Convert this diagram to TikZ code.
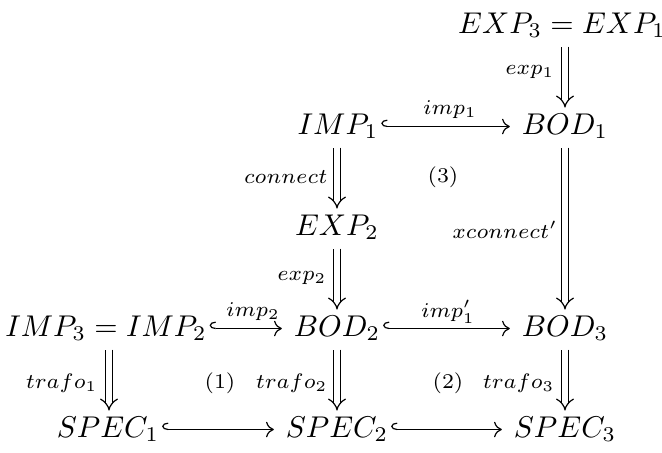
\documentclass[tikz,border=0pt]{standalone}
\usetikzlibrary{arrows.meta,calc}
\begin{document}
\begin{tikzpicture}[x=0.3333pt,y=-0.3333pt,
  obj/.style={inner sep=0pt, outer sep=0pt, anchor=base},
  lbl/.style={inner sep=0pt, font=\scriptsize},
  dbl/.style={double, double distance=1.7pt, line width=0.4pt, -{Implies}},
  inc/.style={line width=0.4pt, {Hooks[right,length=2pt,width=4.6pt]}-{To[length=2.6pt,width=5.2pt]}}]
\useasboundingbox (0,0) rectangle (662,452);
% nodes
\node[obj] (e31) at (562,33) {$EXP_3 = EXP_1$};
\node[obj] (imp1) at (338,134) {$IMP_1$};
\node[obj] (bod1) at (565,134) {$BOD_1$};
\node[obj] (exp2) at (337,235) {$EXP_2$};
\node[obj] (imp32) at (106,336) {$IMP_3 = IMP_2$};
\node[obj] (bod2) at (337,336) {$BOD_2$};
\node[obj] (bod3) at (565,336) {$BOD_3$};
\node[obj] (spec1) at (108,437) {$SPEC_1$};
\node[obj] (spec2) at (337,437) {$SPEC_2$};
\node[obj] (spec3) at (565,437) {$SPEC_3$};
\coordinate (c1) at (109,0);
\coordinate (c2) at (337,0);
\coordinate (c3) at (565,0);
% vertical arrows
\draw[dbl] ([yshift=-3pt]e31.south -| c3) -- ([yshift=2pt]bod1.north -| c3);
\draw[dbl] ([yshift=-3pt]imp1.south -| c2) -- ([yshift=2pt]exp2.north -| c2);
\draw[dbl] ([yshift=-3pt]exp2.south -| c2) -- ([yshift=2pt]bod2.north -| c2);
\draw[dbl] ([yshift=-3pt]bod1.south -| c3) -- ([yshift=2pt]bod3.north -| c3);
\draw[dbl] ([yshift=-3pt]imp32.south -| c1) -- ([yshift=2pt]spec1.north -| c1);
\draw[dbl] ([yshift=-3pt]bod2.south -| c2) -- ([yshift=2pt]spec2.north -| c2);
\draw[dbl] ([yshift=-3pt]bod3.south -| c3) -- ([yshift=2pt]spec3.north -| c3);
% horizontal arrows
\draw[inc] ([xshift=1pt,yshift=2.5pt]imp1.base east) -- ([xshift=-4pt,yshift=2.5pt]bod1.base west);
\draw[inc] ([xshift=1pt,yshift=2.5pt]imp32.base east) -- ([xshift=-4pt,yshift=2.5pt]bod2.base west);
\draw[inc] ([xshift=1pt,yshift=2.5pt]bod2.base east) -- ([xshift=-4pt,yshift=2.5pt]bod3.base west);
\draw[inc] ([xshift=1pt,yshift=2.5pt]spec1.base east) -- ([xshift=-4pt,yshift=2.5pt]spec2.base west);
\draw[inc] ([xshift=1pt,yshift=2.5pt]spec2.base east) -- ([xshift=-4pt,yshift=2.5pt]spec3.base west);
% labels
\node[lbl, anchor=east] (l1) at (555,72) {$exp_1$};
\node[lbl] (l2) at (450,110) {$imp_1$};
\node[lbl, anchor=east] (l3) at (328,177) {$connect$};
\node[lbl] (l4) at (443,177) {$(3)$};
\node[lbl, anchor=east] (l5) at (558,230) {$xconnect'$};
\node[lbl, anchor=east] (l6) at (327,278) {$exp_2$};
\node[lbl] (l7) at (253,312) {$imp_2$};
\node[lbl] (l8) at (448,312) {$imp_1'$};
\node[lbl, anchor=east] (l9) at (98,383) {$trafo_1$};
\node[lbl] (l10) at (220,383) {$(1)$};
\node[lbl, anchor=east] (l11) at (328,383) {$trafo_2$};
\node[lbl] (l12) at (448,383) {$(2)$};
\node[lbl, anchor=east] (l13) at (555,383) {$trafo_3$};
\end{tikzpicture}
\end{document}
